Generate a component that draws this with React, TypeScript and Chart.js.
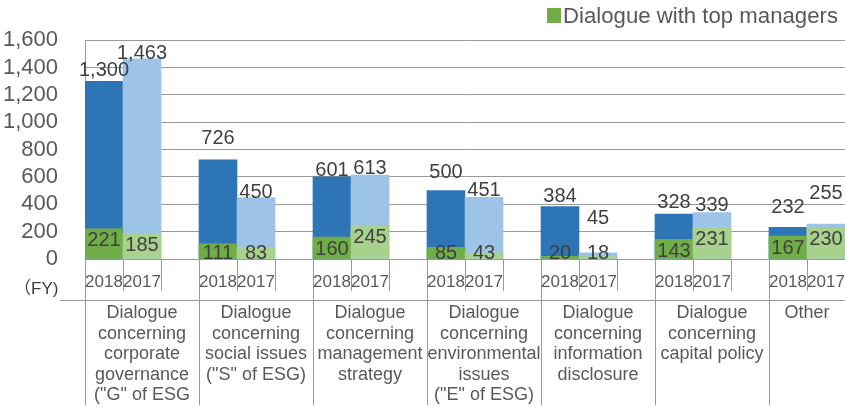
import { useEffect, useRef } from "react";
import { Chart, registerables } from "chart.js";

Chart.register(...registerables);

// ---- data ----
const categories: string[][] = [
  ["Dialogue", "concerning", "corporate", "governance", '("G" of ESG'],
  ["Dialogue", "concerning", "social issues", '("S" of ESG)'],
  ["Dialogue", "concerning", "management", "strategy"],
  ["Dialogue", "concerning", "environmental", "issues", '("E" of ESG)'],
  ["Dialogue", "concerning", "information", "disclosure"],
  ["Dialogue", "concerning", "capital policy"],
  ["Other"],
];
const years = ["2018", "2017"];
const total2018 = [1300, 726, 601, 500, 384, 328, 232];
const total2017 = [1463, 450, 613, 451, 45, 339, 255];
const top2018 = [221, 111, 160, 85, 20, 143, 167];
const top2017 = [185, 83, 245, 43, 18, 231, 230];
const yTicks = [0, 200, 400, 600, 800, 1000, 1200, 1400, 1600];
const legendLabel = "Dialogue with top managers";
const fyLabel = "（FY)";

// ---- styles ----
const blueColors = ["#2E75B6", "#9DC3E6"];
const greenColors = ["#70AD47", "#A9D18E"];
const lineColor = "#999999";
const textGray = "#595959";
const labelDark = "#404040";
const FONT = '"Liberation Sans", Arial, sans-serif';
// gap (px) between a total bar's top and its label, per year
const lift2018 = [5, 16, 1, 13, 4, 6, 14];
const lift2017 = [0, -1, 1, 1, 29, 2, 25];

// slots: each category has 2018, 2017 and a gap; the trailing gap is outside the frame
type Slot = { g: number; yr: number };
const slots: Slot[] = [];
categories.forEach((_, g) => {
  slots.push({ g, yr: 0 }, { g, yr: 1 });
  if (g < categories.length - 1) slots.push({ g, yr: -1 });
});
const totals = [total2018, total2017];
const tops = [top2018, top2017];
const lifts = [lift2018, lift2017];
const slotLabels = slots.map((s) => (s.yr >= 0 ? years[s.yr] : ""));
const totalData = slots.map((s) => (s.yr >= 0 ? totals[s.yr][s.g] : null));
const topData = slots.map((s) => (s.yr >= 0 ? tops[s.yr][s.g] : null));
const blueBg = slots.map((s) => blueColors[Math.max(0, s.yr)]);
const greenBg = slots.map((s) => greenColors[Math.max(0, s.yr)]);

const fmt = (v: number) => v.toLocaleString("en-US");

const decorPlugin = {
  id: "decor",
  afterDatasetsDraw(chart: any) {
    const ctx: CanvasRenderingContext2D = chart.ctx;
    const xs = chart.scales.x;
    const ys = chart.scales.y;
    const band = xs.getPixelForValue(1) - xs.getPixelForValue(0);
    const axisY = ys.getPixelForValue(0);
    const W = chart.width;
    const blueMeta = chart.getDatasetMeta(1);
    const greenMeta = chart.getDatasetMeta(0);
    const crisp = (v: number) => Math.round(v) + 0.5;

    ctx.save();
    // data labels
    ctx.fillStyle = labelDark;
    ctx.textAlign = "center";
    ctx.font = `20px ${FONT}`;
    slots.forEach((s, i) => {
      if (s.yr < 0) return;
      const b = blueMeta.data[i];
      ctx.textBaseline = "alphabetic";
      ctx.fillText(fmt(totals[s.yr][s.g]), b.x, b.y - lifts[s.yr][s.g]);
      const gb = greenMeta.data[i];
      const cy = Math.min(gb.y + 12, axisY - 6);
      ctx.textBaseline = "middle";
      ctx.fillText(fmt(tops[s.yr][s.g]), gb.x, cy);
    });

    // axis lines
    ctx.strokeStyle = lineColor;
    ctx.lineWidth = 1;
    ctx.beginPath();
    slots.forEach((s, i) => {
      if (s.yr < 0) return;
      const cx = xs.getPixelForValue(i);
      const l = cx - band / 2;
      const r = cx + band / 2;
      if (s.yr === 0) {
        ctx.moveTo(crisp(l), axisY);
        ctx.lineTo(crisp(l), 405);
      }
      ctx.moveTo(crisp(r), axisY);
      ctx.lineTo(crisp(r), axisY + 32);
    });
    ctx.moveTo(60, 300.5);
    ctx.lineTo(W, 300.5);
    ctx.stroke();

    // year labels
    ctx.fillStyle = textGray;
    ctx.font = `17px ${FONT}`;
    ctx.textBaseline = "alphabetic";
    slots.forEach((s, i) => {
      if (s.yr < 0) return;
      ctx.fillText(years[s.yr], xs.getPixelForValue(i), 287);
    });

    // category labels
    ctx.font = `18px ${FONT}`;
    categories.forEach((lines, g) => {
      const first = slots.findIndex((s) => s.g === g && s.yr === 0);
      const left = xs.getPixelForValue(first) - band / 2;
      const right = Math.min(left + 3 * band, W);
      const cx = (left + right) / 2;
      lines.forEach((ln, k) => ctx.fillText(ln, cx, 318 + k * 20.6));
    });

    // FY label
    ctx.textAlign = "left";
    ctx.font = `17px ${FONT}, "Noto Sans CJK JP"`;
    ctx.fillStyle = "#404040";
    ctx.fillText(fyLabel, 14, 294);

    // legend
    ctx.fillStyle = greenColors[0];
    ctx.fillRect(547, 8, 14, 15);
    ctx.fillStyle = textGray;
    ctx.font = `22.2px ${FONT}`;
    ctx.fillText(legendLabel, 563, 23);
    ctx.restore();
  },
};

export default function App() {
  const ref = useRef<HTMLCanvasElement>(null);
  useEffect(() => {
    if (!ref.current) return;
    Chart.defaults.font.family = FONT;
    const chart = new Chart(ref.current, {
      type: "bar",
      data: {
        labels: slotLabels,
        datasets: [
          {
            label: legendLabel,
            data: topData,
            backgroundColor: greenBg,
            grouped: false,
            order: 0,
            barPercentage: 1,
            categoryPercentage: 1,
            borderWidth: 0,
          },
          {
            label: "Total",
            data: totalData,
            backgroundColor: blueBg,
            grouped: false,
            order: 1,
            barPercentage: 1,
            categoryPercentage: 1,
            borderWidth: 0,
          },
        ],
      },
      options: {
        responsive: false,
        animation: false,
        layout: { padding: { top: 36, left: 0, right: 0, bottom: 0 } },
        plugins: { legend: { display: false }, tooltip: { enabled: false } },
        scales: {
          x: {
            type: "category",
            offset: true,
            ticks: { display: false },
            grid: { display: false },
            border: { display: false },
            afterFit: (s: any) => {
              s.height = 151;
            },
          },
          y: {
            min: 0,
            max: 1600,
            afterBuildTicks: (s: any) => {
              s.ticks = yTicks.map((v) => ({ value: v }));
            },
            ticks: {
              autoSkip: false,
              padding: 27,
              color: textGray,
              font: { size: 22, family: FONT },
              callback: (v: any) => fmt(Number(v)),
            },
            grid: { color: lineColor, drawTicks: false, lineWidth: 1 },
            border: { display: true, color: lineColor },
            afterFit: (s: any) => {
              s.width = 85;
            },
          },
        },
      },
      plugins: [decorPlugin],
    });
    return () => chart.destroy();
  }, []);
  return (
    <div style={{ position: "fixed", left: 0, top: 0, width: 845, height: 410, background: "#fff" }}>
      <canvas ref={ref} width={845} height={410} />
    </div>
  );
}
